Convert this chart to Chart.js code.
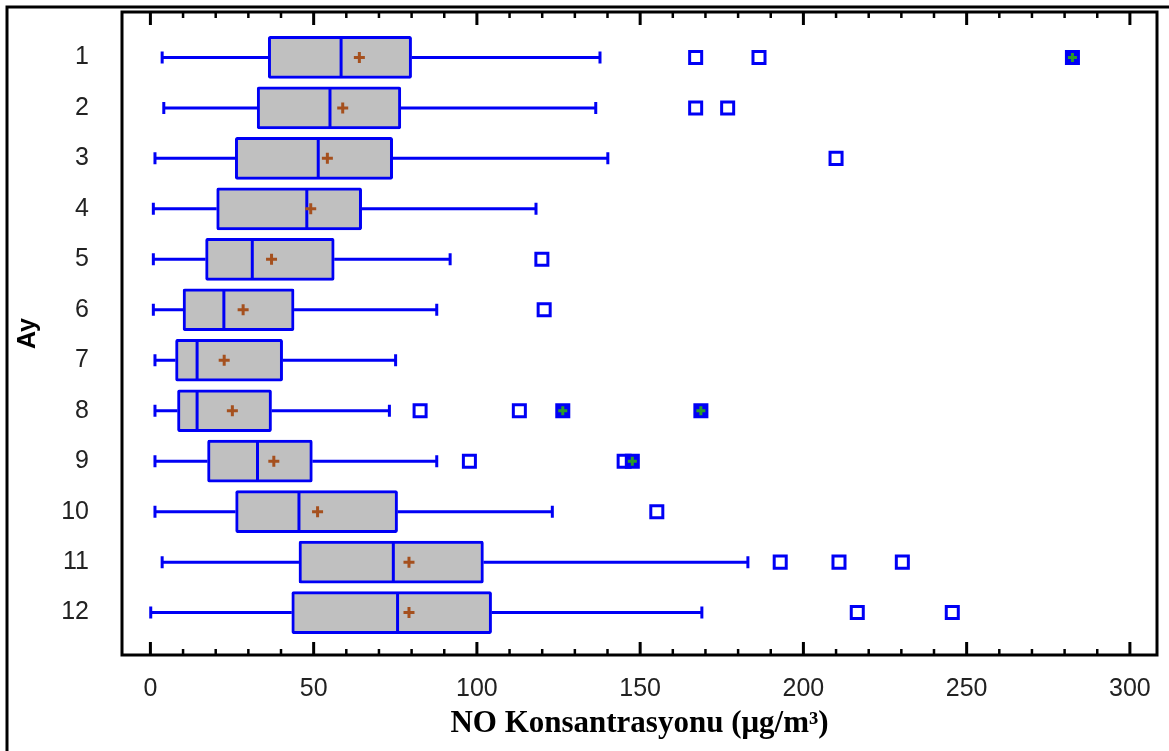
<!DOCTYPE html>
<html>
<head>
<meta charset="utf-8">
<script src="https://cdn.jsdelivr.net/npm/chart.js@4.4.0/dist/chart.umd.min.js"></script>
<style>
  body { margin: 0; background: #fff; }
  canvas { display: block; }
</style>
</head>
<body>
<canvas id="mychart" width="1169" height="751"></canvas>
<script>
// monthly NO box plots (Ay = month)
let months = [1, 2, 3, 4, 5, 6, 7, 8, 9, 10, 11, 12];
let lowWhisker  = [3.6, 4.1, 1.4, 0.9, 0.9, 0.9, 1.4, 1.4, 1.4, 1.4, 3.6, 0.1];
let q1          = [36.1, 32.7, 26.0, 20.3, 16.9, 10.0, 7.7, 8.3, 17.5, 26.1, 45.5, 43.3];
let median      = [58.4, 55.0, 51.4, 47.9, 31.2, 22.5, 14.3, 14.3, 32.8, 45.5, 74.4, 75.7];
let mean        = [64.0, 58.9, 54.2, 49.1, 37.1, 28.4, 22.6, 25.1, 37.8, 51.2, 79.2, 79.2];
let q3          = [80.0, 76.7, 74.2, 64.7, 56.3, 44.0, 40.5, 37.1, 49.6, 75.7, 102.0, 104.5];
let highWhisker = [137.7, 136.4, 140.1, 118.1, 91.8, 87.7, 75.1, 73.2, 87.7, 123.1, 183.0, 168.9];

// outside points
let outMonths = [1, 1, 2, 2, 3, 5, 6, 8, 8, 9, 9, 10, 11, 11, 11, 12, 12];
let outValues = [167.0, 186.4, 167.0, 176.8, 210.0, 119.9, 120.6, 82.6, 113.0, 97.7, 145.1, 155.1, 192.9, 210.9, 230.3, 216.5, 245.6];
// far outside points
let farMonths = [1, 8, 8, 9];
let farValues = [282.4, 126.3, 168.6, 147.6];

let blue = '#0000F5';

let boxParts = {
  id: 'boxParts',
  beforeDraw(chart) {
    let c = chart.ctx;
    c.save();
    c.fillStyle = '#fff';
    c.fillRect(0, 0, chart.width, chart.height);
    c.strokeStyle = '#000';
    c.lineWidth = 3;
    c.strokeRect(7, 7, chart.width + 20, chart.height + 20);
    c.restore();
  },
  beforeDatasetsDraw(chart) {
    let c = chart.ctx, sx = chart.scales.x, sy = chart.scales.y;
    c.save();
    c.strokeStyle = blue;
    c.lineWidth = 3;
    months.forEach((m, i) => {
      let py = sy.getPixelForValue(m);
      let lo = sx.getPixelForValue(lowWhisker[i]);
      let hi = sx.getPixelForValue(highWhisker[i]);
      c.beginPath();
      c.moveTo(lo, py); c.lineTo(sx.getPixelForValue(q1[i]), py);
      c.moveTo(sx.getPixelForValue(q3[i]), py); c.lineTo(hi, py);
      c.moveTo(lo, py - 6); c.lineTo(lo, py + 6);
      c.moveTo(hi, py - 6); c.lineTo(hi, py + 6);
      c.stroke();
    });
    c.restore();
  },
  afterDatasetDraw(chart, args) {
    if (args.meta.type !== 'bar') return;
    let c = chart.ctx, sx = chart.scales.x, sy = chart.scales.y;
    c.save();
    c.strokeStyle = blue;
    c.lineWidth = 3;
    months.forEach((m, i) => {
      let py = sy.getPixelForValue(m);
      let px = sx.getPixelForValue(median[i]);
      c.beginPath();
      c.moveTo(px, py - 20); c.lineTo(px, py + 20);
      c.stroke();
    });
    c.restore();
  },
  afterDraw(chart) {
    let c = chart.ctx, a = chart.chartArea, sx = chart.scales.x;
    c.save();
    c.strokeStyle = '#000';
    c.lineWidth = 3;
    c.strokeRect(a.left, a.top, a.right - a.left, a.bottom - a.top);
    sx.ticks.forEach(t => {
      let px = sx.getPixelForValue(t.value);
      let len = t.value % 50 === 0 ? 13 : 6;
      c.lineWidth = t.value % 50 === 0 ? 3 : 2.5;
      c.beginPath();
      c.moveTo(px, a.bottom); c.lineTo(px, a.bottom - len);
      c.moveTo(px, a.top); c.lineTo(px, a.top + len);
      c.stroke();
    });
    c.restore();
  }
};

let ctx = document.querySelector('#mychart').getContext('2d');
let myChart = new Chart(ctx, {
  type: 'bar',
  data: {
    datasets: [{
      type: 'bar',
      indexAxis: 'y',
      data: months.map((m, i) => ({ y: m, x: [q1[i], q3[i]] })),
      backgroundColor: '#C0C0C0',
      borderColor: blue,
      borderWidth: 3,
      borderSkipped: false,
      borderRadius: 2,
      barThickness: 42,
      order: 5
    }, {
      type: 'scatter',
      data: outMonths.map((m, i) => ({ x: outValues[i], y: m })),
      pointStyle: 'rect',
      pointRadius: 8.5,
      borderWidth: 3,
      borderColor: blue,
      backgroundColor: '#fff',
      order: 4
    }, {
      type: 'scatter',
      data: farMonths.map((m, i) => ({ x: farValues[i], y: m })),
      pointStyle: 'rect',
      pointRadius: 8.5,
      borderWidth: 3,
      borderColor: blue,
      backgroundColor: blue,
      order: 3
    }, {
      type: 'scatter',
      data: farMonths.map((m, i) => ({ x: farValues[i], y: m })),
      pointStyle: 'cross',
      pointRadius: 4.5,
      borderWidth: 3,
      borderColor: '#2A9A2A',
      order: 2
    }, {
      type: 'scatter',
      data: months.map((m, i) => ({ x: mean[i], y: m })),
      pointStyle: 'cross',
      pointRadius: 5.5,
      borderWidth: 3,
      borderColor: '#A5501E',
      order: 1
    }]
  },
  options: {
    responsive: false,
    animation: false,
    layout: { padding: { top: 12, right: 12, left: 0, bottom: 0 } },
    plugins: {
      legend: { display: false },
      tooltip: { enabled: false }
    },
    scales: {
      x: {
        type: 'linear',
        offset: false,
        min: -8.7,
        max: 308.3,
        grid: { display: false, drawTicks: false, offset: false },
        border: { display: false },
        afterFit: (s) => { s.height = 96; s.paddingLeft = 0; s.paddingRight = 0; },
        ticks: {
          stepSize: 10,
          includeBounds: false,
          autoSkip: false,
          maxRotation: 0,
          padding: 19,
          color: '#222',
          font: { family: 'Liberation Sans, Arial, sans-serif', size: 25 },
          callback: (v) => v % 50 === 0 ? v : ''
        },
        title: {
          display: true,
          text: 'NO Konsantrasyonu (μg/m³)',
          color: '#000',
          padding: { top: 0, bottom: 8 },
          font: { family: 'Liberation Serif, Times New Roman, serif', size: 31, weight: 'bold' }
        }
      },
      y: {
        type: 'linear',
        offset: false,
        min: 0.1,
        max: 12.84,
        reverse: true,
        grid: { display: false, drawTicks: false, offset: false },
        border: { display: false },
        // keep the plot frame edge fixed; labels sit well inside the range
        afterFit: (s) => { s.width = 122; s.paddingTop = 0; s.paddingBottom = 0; },
        ticks: {
          stepSize: 1,
          includeBounds: false,
          autoSkip: false,
          padding: 33,
          color: '#222',
          font: { family: 'Liberation Sans, Arial, sans-serif', size: 25 }
        },
        title: {
          display: true,
          text: 'Ay',
          color: '#000',
          padding: { top: 13, bottom: 0 },
          font: { family: 'Liberation Sans, Arial, sans-serif', size: 25, weight: 'bold' }
        }
      }
    }
  },
  plugins: [boxParts]
});
</script>
</body>
</html>
